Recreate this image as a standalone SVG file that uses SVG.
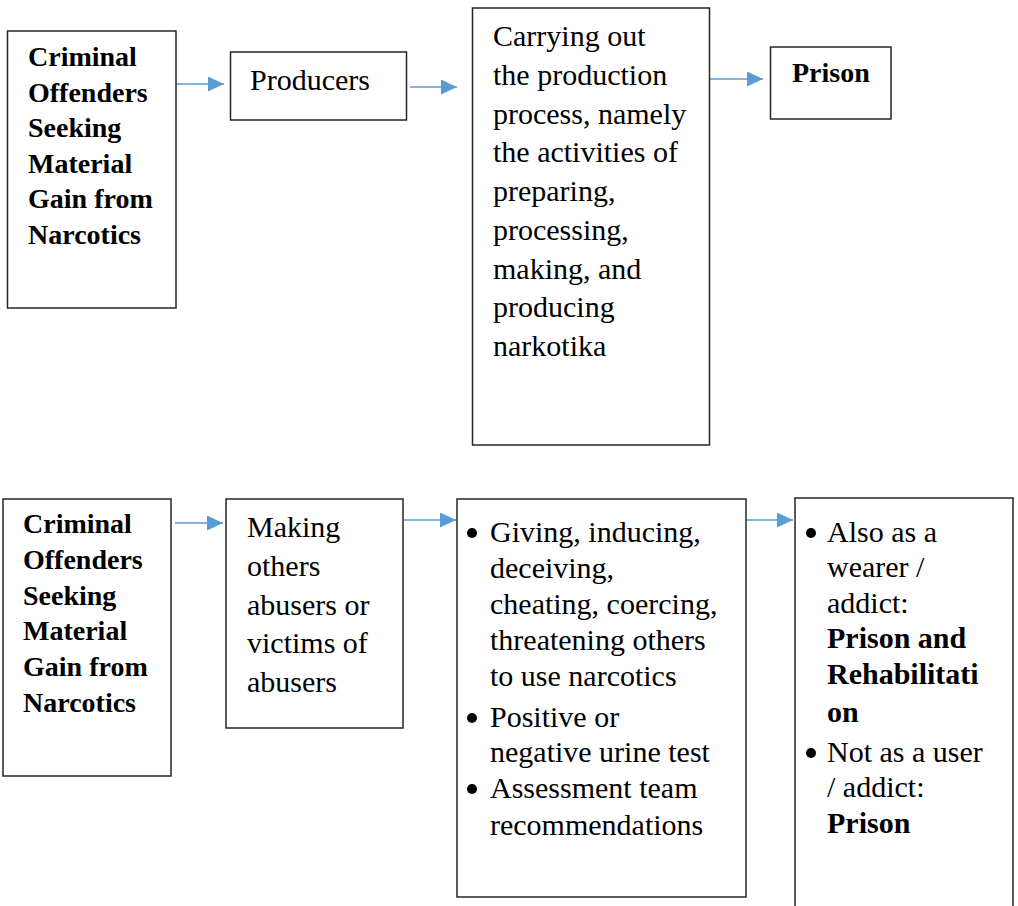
<svg xmlns="http://www.w3.org/2000/svg" width="1018" height="906" viewBox="0 0 1018 906">
<defs>
<style>
.box{fill:#ffffff;stroke:#262626;stroke-width:1.5}
.conn{stroke:#5B9BD5;stroke-width:1.6;fill:none}
.t{font-family:"Liberation Serif","Times New Roman",serif;fill:#000000}
.r{font-size:30px}
.b{font-weight:bold}
.bullet{fill:#000000}
</style>
<marker id="ah" markerUnits="userSpaceOnUse" markerWidth="16" markerHeight="15" refX="16" refY="7.5" orient="auto">
<path d="M0,0 L16,7.5 L0,15 z" fill="#5B9BD5"/>
</marker>
</defs>
<rect width="1018" height="906" fill="#ffffff"/>

<g id="connectors">
<line class="conn" x1="176" y1="84" x2="224" y2="84" marker-end="url(#ah)"/>
<line class="conn" x1="410" y1="87" x2="457" y2="87" marker-end="url(#ah)"/>
<line class="conn" x1="710" y1="79" x2="763" y2="79" marker-end="url(#ah)"/>
<line class="conn" x1="175" y1="523" x2="223" y2="523" marker-end="url(#ah)"/>
<line class="conn" x1="403" y1="520" x2="456" y2="520" marker-end="url(#ah)"/>
<line class="conn" x1="746" y1="520" x2="793" y2="520" marker-end="url(#ah)"/>
</g>

<g id="node-offenders-top">
<rect class="box" x="7.5" y="31" width="168.5" height="277"/>
<text class="t b" font-size="28">
<tspan x="28" y="66">Criminal</tspan>
<tspan x="28" y="101.5">Offenders</tspan>
<tspan x="28" y="137">Seeking</tspan>
<tspan x="28" y="172.5">Material</tspan>
<tspan x="28" y="208">Gain from</tspan>
<tspan x="28" y="243.5">Narcotics</tspan>
</text>
</g>

<g id="node-producers">
<rect class="box" x="230.5" y="52" width="176" height="68"/>
<text class="t r" x="250" y="90">Producers</text>
</g>

<g id="node-production">
<rect class="box" x="472.5" y="8" width="237" height="437"/>
<text class="t r">
<tspan x="493" y="46">Carrying out</tspan>
<tspan x="493" y="84.75">the production</tspan>
<tspan x="493" y="123.5">process, namely</tspan>
<tspan x="493" y="162.25">the activities of</tspan>
<tspan x="493" y="201">preparing,</tspan>
<tspan x="493" y="239.75">processing,</tspan>
<tspan x="493" y="278.5">making, and</tspan>
<tspan x="493" y="317.25">producing</tspan>
<tspan x="493" y="356">narkotika</tspan>
</text>
</g>

<g id="node-prison-top">
<rect class="box" x="770.5" y="47" width="120.5" height="72"/>
<text class="t b" font-size="28" x="792" y="82">Prison</text>
</g>

<g id="node-offenders-bottom">
<rect class="box" x="3" y="499" width="168" height="277"/>
<text class="t b" font-size="28">
<tspan x="23" y="533">Criminal</tspan>
<tspan x="23" y="568.8">Offenders</tspan>
<tspan x="23" y="604.6">Seeking</tspan>
<tspan x="23" y="640.4">Material</tspan>
<tspan x="23" y="676.2">Gain from</tspan>
<tspan x="23" y="712">Narcotics</tspan>
</text>
</g>

<g id="node-making-others">
<rect class="box" x="226" y="499" width="177" height="229"/>
<text class="t r">
<tspan x="247" y="537">Making</tspan>
<tspan x="247" y="575.75">others</tspan>
<tspan x="247" y="614.5">abusers or</tspan>
<tspan x="247" y="653.25">victims of</tspan>
<tspan x="247" y="692">abusers</tspan>
</text>
</g>

<g id="node-actions">
<rect class="box" x="457" y="499" width="289" height="398"/>
<circle class="bullet" cx="472" cy="533" r="5"/>
<circle class="bullet" cx="472" cy="718" r="5"/>
<circle class="bullet" cx="472" cy="789" r="5"/>
<text class="t r">
<tspan x="490" y="542">Giving, inducing,</tspan>
<tspan x="490" y="578">deceiving,</tspan>
<tspan x="490" y="614">cheating, coercing,</tspan>
<tspan x="490" y="650">threatening others</tspan>
<tspan x="490" y="686">to use narcotics</tspan>
<tspan x="490" y="727">Positive or</tspan>
<tspan x="490" y="762">negative urine test</tspan>
<tspan x="490" y="798">Assessment team</tspan>
<tspan x="490" y="835">recommendations</tspan>
</text>
</g>

<g id="node-sentence">
<rect class="box" x="795" y="498" width="218" height="430"/>
<circle class="bullet" cx="811" cy="533" r="5"/>
<circle class="bullet" cx="811" cy="753" r="5"/>
<text class="t r">
<tspan x="827" y="542">Also as a</tspan>
<tspan x="827" y="577">wearer /</tspan>
<tspan x="827" y="613">addict:</tspan>
<tspan x="827" y="648" class="b">Prison and</tspan>
<tspan x="827" y="684" class="b">Rehabilitati</tspan>
<tspan x="827" y="722" class="b">on</tspan>
<tspan x="827" y="762">Not as a user</tspan>
<tspan x="827" y="797">/ addict:</tspan>
<tspan x="827" y="833" class="b">Prison</tspan>
</text>
</g>
</svg>
